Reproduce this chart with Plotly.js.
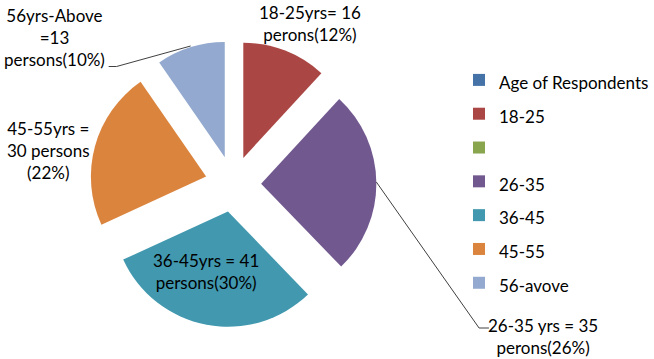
<!DOCTYPE html>
<html>
<head>
<meta charset="utf-8">
<script src="https://cdn.plot.ly/plotly-3.0.1.min.js"></script>
<style>html,body{margin:0;padding:0;background:#fff;}#chart{width:654px;height:359px;}</style>
</head>
<body>
<div id="chart"></div>
<script>
// ---- data ----
var categories = ["Age of Respondents", "18-25", " ", "26-35", "36-45", "45-55", "56-avove"];
var persons    = [0, 16, 0, 35, 41, 30, 13];
var sliceColors = ["#4572A7", "#AA4643", "#89A54E", "#71588F", "#4198AF", "#DB843D", "#93A9CF"];
var dataLabels = [
  "18-25yrs= 16<br>perons(12%)",
  "56yrs-Above<br>=13<br>persons(10%)",
  "45-55yrs =<br>30 persons<br>(22%)",
  "36-45yrs = 41<br>persons(30%)",
  "26-35 yrs = 35<br>perons(26%)"
];

// ---- layout helpers (pixel -> paper) ----
var W = 654, H = 359;
function px(x) { return x / W; }
function py(y) { return 1 - y / H; }

var cx = 236, cy = 184, half = 145;
var FONT = "Lato, 'Open Sans', sans-serif";

var trace = {
  type: "pie",
  labels: categories.map(function (c) { return '<span style="font-size:17px">' + c + '</span>'; }),
  values: persons,
  sort: false,
  direction: "clockwise",
  rotation: 0,
  pull: persons.map(function () { return 0.243; }),
  marker: { colors: sliceColors, line: { width: 0 } },
  textinfo: "none",
  hoverinfo: "none",
  domain: { x: [px(cx - half), px(cx + half)], y: [py(cy + half), py(cy - half)] }
};

var labelPos = [[314, 23.5], [55, 38], [49, 150], [208.5, 271.5], [550, 336.5]];
var annotations = dataLabels.map(function (t, i) {
  return {
    text: t, showarrow: false, xref: "paper", yref: "paper",
    x: px(labelPos[i][0]), y: py(labelPos[i][1]),
    xanchor: "center", yanchor: "middle", align: "center",
    font: { family: FONT, size: 17, color: "#000" }
  };
});

function pathOf(pts) {
  return pts.map(function (p, i) { return (i ? "L" : "M") + px(p[0]) + "," + py(p[1]); }).join(" ");
}
var shapes = [
  { type: "path", xref: "paper", yref: "paper", path: pathOf([[110, 66.5], [118, 66.5], [193, 46]]), line: { color: "#404040", width: 1 } },
  { type: "path", xref: "paper", yref: "paper", path: pathOf([[381, 182], [485, 328], [495, 328]]), line: { color: "#404040", width: 1 } }
];

var layout = {
  width: W, height: H,
  margin: { l: 0, r: 0, t: 0, b: 0 },
  paper_bgcolor: "#fff",
  showlegend: true,
  legend: {
    x: px(465), y: py(58), xanchor: "left", yanchor: "top",
    font: { family: FONT, size: 23.7, color: "#000" },
    bgcolor: "rgba(0,0,0,0)", borderwidth: 0
  },
  annotations: annotations,
  shapes: shapes
};

Plotly.newPlot("chart", [trace], layout, { staticPlot: true, displayModeBar: false });
</script>
</body>
</html>
